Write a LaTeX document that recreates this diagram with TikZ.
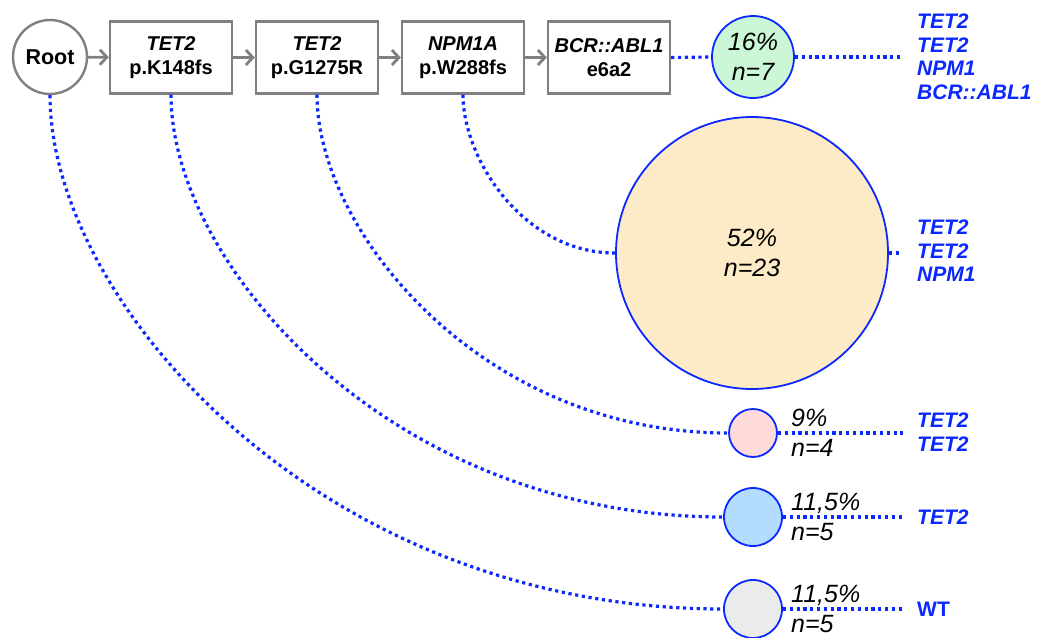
\documentclass[tikz,border=0pt]{standalone}
\usepackage{fontspec}
\setmainfont{Liberation Sans}
\usetikzlibrary{arrows.meta}
\definecolor{bl}{RGB}{10,40,255}
\definecolor{gr}{RGB}{128,128,128}
\definecolor{cgreen}{RGB}{204,247,214}
\definecolor{cpeach}{RGB}{253,234,198}
\definecolor{cpink}{RGB}{255,218,218}
\definecolor{cblue}{RGB}{179,220,255}
\definecolor{cgray}{RGB}{235,235,235}
\tikzset{
  gbox/.style={draw=gr, line width=2.4pt, fill=white, minimum width=122pt, minimum height=72pt, inner sep=0pt, align=center, font=\fontsize{20}{23.5}\selectfont\bfseries},
  rootc/.style={circle, draw=gr, line width=2.4pt, fill=white, minimum size=74pt, inner sep=0pt, font=\fontsize{21.5}{24}\selectfont\bfseries},
  clone/.style={circle, draw=bl, line width=1.8pt, inner sep=0pt, align=center, font=\fontsize{25}{30}\selectfont\itshape},
  pct/.style={anchor=west, inner sep=0pt, align=left, font=\fontsize{25}{30}\selectfont\itshape},
  lab/.style={anchor=west, inner sep=0pt, align=left, text=bl, font=\fontsize{21}{23.5}\selectfont\bfseries\itshape},
  garrow/.style={draw=gr, line width=2.8pt, -{Straight Barb[length=7pt,width=15pt,line width=2.8pt]}},
  dotline/.style={draw=bl, line width=3.2pt, dash pattern=on 3.2pt off 3.6pt}
}
\begin{document}
\begin{tikzpicture}[x=1pt,y=-1pt]
\useasboundingbox (0,0) rectangle (1051,637);
% main chain
\node[rootc] (root) at (50,57) {Root};
\node[gbox] (b1) at (171,57.5) {\textit{TET2}\\p.K148fs};
\node[gbox] (b2) at (317,57.5) {\textit{TET2}\\p.G1275R};
\node[gbox] (b3) at (463,57.5) {\textit{NPM1A}\\p.W288fs};
\node[gbox] (b4) at (609,57.5) {\textit{BCR::ABL1}\\e6a2};
\draw[garrow] (root) -- (b1);
\draw[garrow] (b1) -- (b2);
\draw[garrow] (b2) -- (b3);
\draw[garrow] (b3) -- (b4);
% clones
\node[clone, fill=cgreen, minimum size=82pt] (c1) at (753,57) {16\%\\n=7};
\node[clone, fill=cpeach, minimum size=272pt] (c2) at (752,253) {52\%\\n=23};
\node[clone, fill=cpink, minimum size=48pt] (c3) at (753,433) {};
\node[clone, fill=cblue, minimum size=58pt] (c4) at (753,517) {};
\node[clone, fill=cgray, minimum size=58pt] (c5) at (753,609) {};
\node[pct] (t3) at (791,433) {9\%\\n=4};
\node[pct] (t4) at (791,517) {11,5\%\\n=5};
\node[pct] (t5) at (791,609) {11,5\%\\n=5};
% end coordinates
\coordinate (e1) at (900,57);
\coordinate (e2) at (900,253);
\coordinate (e3) at (903,433);
\coordinate (e4) at (903,517);
\coordinate (e5) at (903,609);
% dotted connectors
\draw[dotline] (b4.east) -- (c1.west);
\draw[dotline] (c1.east) -- (e1);
\draw[dotline] (c2.east) -- (e2);
\draw[dotline] (c3.east) -- (e3);
\draw[dotline] (c4.east) -- (e4);
\draw[dotline] (c5.east) -- (e5);
\draw[dotline] (b3.south) .. controls +(0,64) and +(-92,0) .. (c2.west);
\draw[dotline] (b2.south) .. controls +(0,136) and +(-247,0) .. (c3.west);
\draw[dotline] (b1.south) .. controls +(0,170) and +(-332,0) .. (c4.west);
\draw[dotline] (root.south) .. controls +(0,206) and +(-404,0) .. (c5.west);
% labels
\node[lab] (l1) at (917,57) {TET2\\TET2\\NPM1\\BCR::ABL1};
\node[lab] (l2) at (917,251) {TET2\\TET2\\NPM1};
\node[lab] (l3) at (917,432) {TET2\\TET2};
\node[lab] (l4) at (917,517) {TET2};
\node[lab] (l5) at (917,609) {\upshape WT};
\end{tikzpicture}
\end{document}
